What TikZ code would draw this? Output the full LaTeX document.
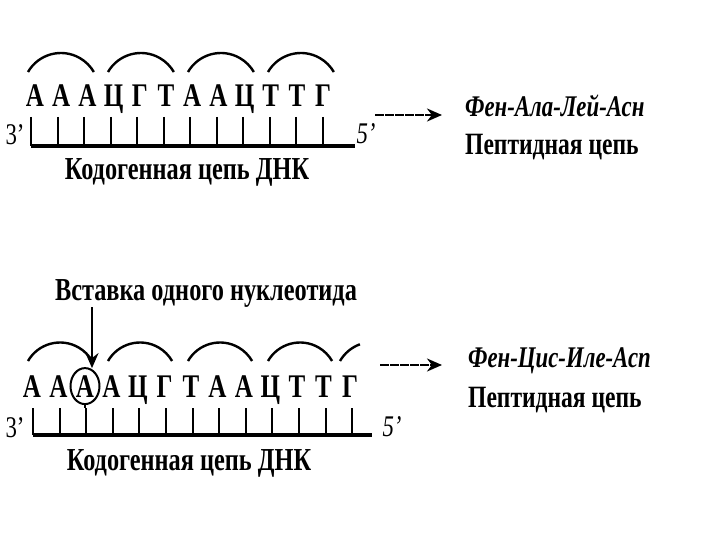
\documentclass[tikz,border=0pt]{standalone}
\usepackage{fontspec}
\setmainfont{Liberation Serif}[FakeStretch=0.76]
\usetikzlibrary{positioning,arrows.meta}

\begin{document}
\begin{tikzpicture}[
        x=1pt, y=-1pt,
        nuc/.style={font=\fontsize{33}{33}\selectfont\bfseries, inner sep=0pt, anchor=base},
        tag/.style={font=\fontsize{32}{32}\selectfont\bfseries, inner sep=0pt},
        pep/.style={font=\fontsize{30}{30}\selectfont\bfseries\itshape, inner sep=0pt, anchor=west},
        chaintag/.style={font=\fontsize{31}{31}\selectfont\bfseries, inner sep=0pt, anchor=west},
        prime/.style={font=\fontsize{30}{30}\selectfont, inner sep=0pt},
        primeit/.style={font=\fontsize{30}{30}\selectfont\itshape, inner sep=0pt},
        codon/.style={line width=2.4pt},
        tickline/.style={line width=2pt},
        strand/.style={line width=4pt},
        topep/.style={line width=2.4pt, dash pattern=on 9pt off 1pt, -{Stealth[length=15pt, width=13pt]}}
      ]

      \fill[white] (0,0) rectangle (720,540);

      \foreach \b [count=\i from 0] in {А,А,А,Ц,Г,Т,А,А,Ц,Т,Т,Г}
        \node (T\i) [nuc] at (35+26.2*\i, 107) {\b};
      \foreach \i in {0,...,3}
        \draw[codon] (28+80*\i, 72) arc[start angle=210, end angle=330, radius=38];
      \draw[strand] (31,146) -- (355,146);
      \foreach \i in {0,...,11}
        \draw[tickline] (31+26.5*\i, 117) -- (31+26.5*\i, 146);
      \node (S3) [prime] at (15,135) {3'};
      \node (S5) [primeit] at (366,134) {5'};
      \node (K1) [tag] at (187,172) {Кодогенная цепь ДНК};

      \node (F1) [pep] at (465,106) {Фен-Ала-Лей-Асн};
      \node (P1) [chaintag, below=41pt of F1.west, anchor=west] {Пептидная цепь};
      \coordinate (A1) at (375,115);
      \draw[topep] (A1) -- (A1 -| F1.west) [shorten >=23pt];

      \node (Ins) [tag] at (206,293) {Вставка одного нуклеотида};
      \foreach \b [count=\i from 0] in {А,А,А,А,Ц,Г,Т,А,А,Ц,Т,Т,Г}
        \node (B\i) [nuc] at (32+26.5*\i, 397) {\b};
      \coordinate (C) at (B2.center);
      \coordinate (Ctop) at ([yshift=18pt]C);
      \coordinate (Cbot) at ([yshift=-18pt]C);
      \draw[line width=2pt] (C) ellipse [x radius=14.5, y radius=18];
      \coordinate (D) at (92,312);
      \draw[line width=2pt, -{Stealth[length=15pt, width=13pt]}] (D |- Ins.south) -- (D |- Ctop);
      \foreach \i in {0,...,3}
        \draw[codon] (28+80*\i, 361) arc[start angle=210, end angle=330, radius=37];
      \draw[codon] (340,361) arc[start angle=210, end angle=250, radius=38];
      \draw[strand] (33,435) -- (372,435);
      \foreach \i in {0,...,12}
        \draw[tickline] (33+26.6*\i, 408) -- (33+26.6*\i, 435);
      \draw[tickline] (Cbot) -- (Cbot |- 0,408);
      \node (E3) [prime] at (15,428) {3'};
      \node (E5) [primeit] at (392,427) {5'};
      \node (K2) [tag] at (189,463) {Кодогенная цепь ДНК};

      \node (F2) [pep] at (468,361) {Фен-Цис-Иле-Асп};
      \node (P2) [chaintag, below=39pt of F2.west, anchor=west] {Пептидная цепь};
      \coordinate (A2) at (380,365);
      \draw[topep] (A2) -- (A2 -| F2.west) [shorten >=26pt];

    \end{tikzpicture}
\end{document}
